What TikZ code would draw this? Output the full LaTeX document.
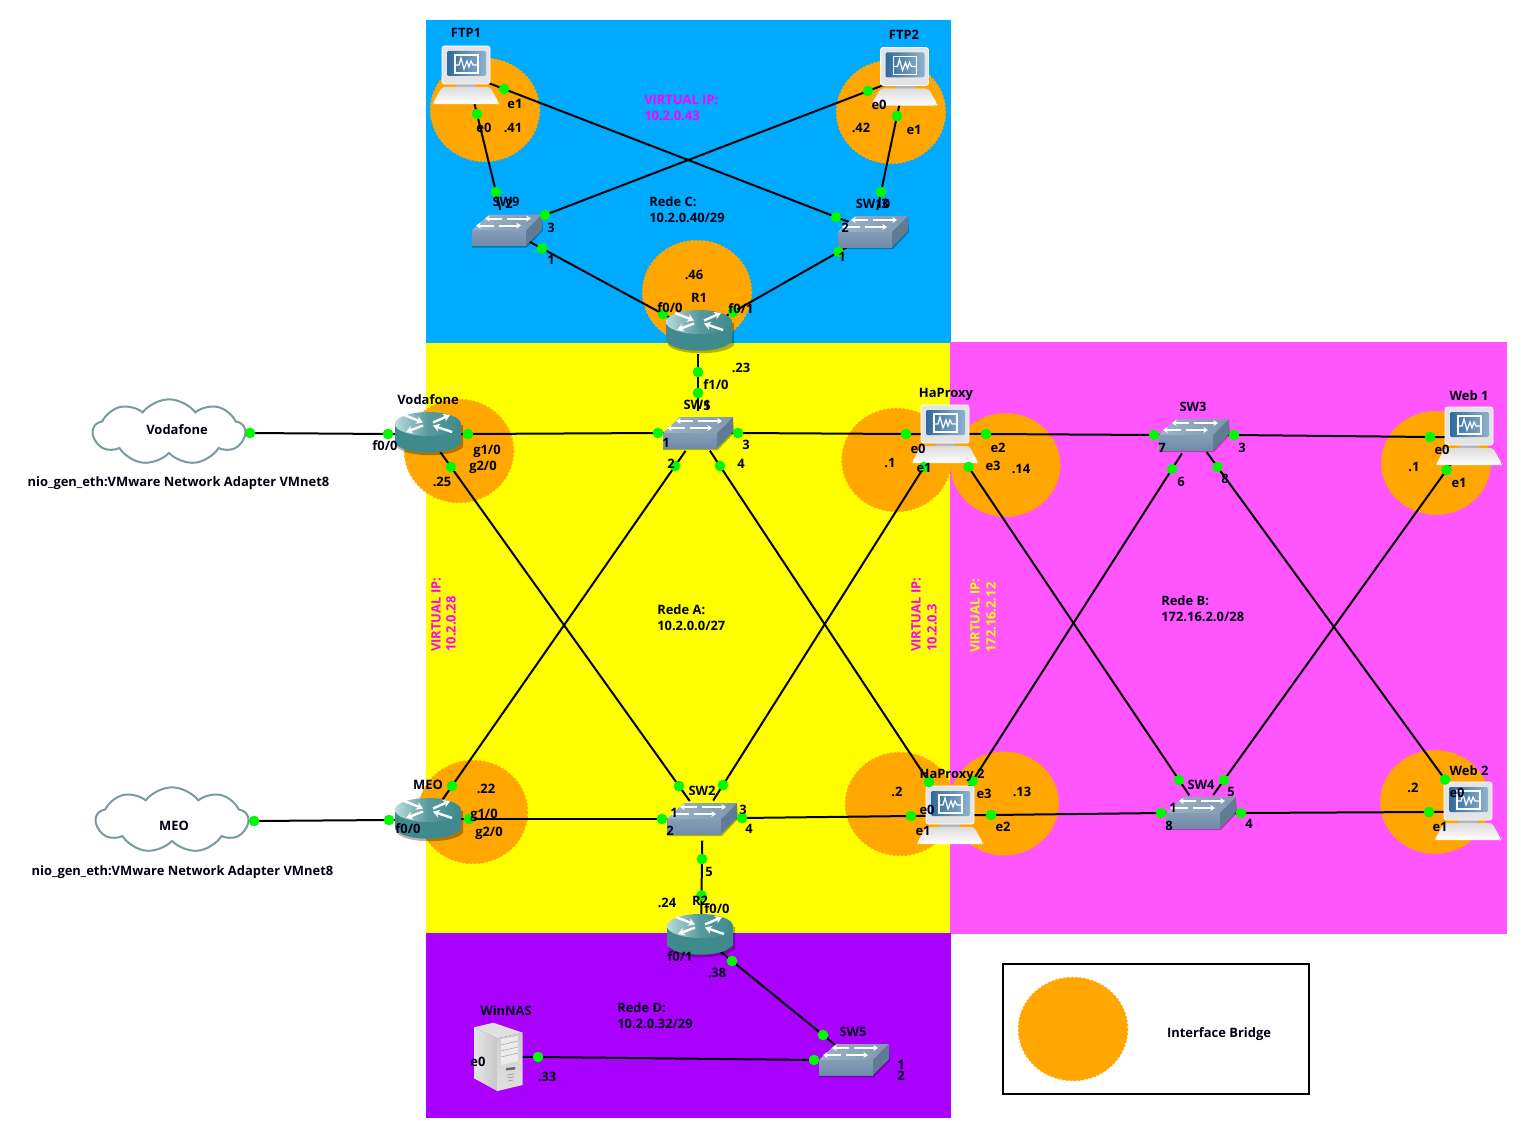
\documentclass[tikz,border=0pt]{standalone}
\usepackage{fontspec}
\setmainfont{Open Sans}
\usetikzlibrary{arrows.meta,shapes.symbols}
\pgfdeclarelayer{devs}\pgfdeclarelayer{ports}\pgfdeclarelayer{texts}
\pgfsetlayers{main,devs,ports,texts}
\definecolor{netblue}{HTML}{00AAFF}
\definecolor{netyellow}{HTML}{FFFF00}
\definecolor{netmag}{HTML}{FF55FF}
\definecolor{netpur}{HTML}{AA00FF}
\definecolor{brorange}{HTML}{FFA600}
\definecolor{portgreen}{HTML}{00F800}
\definecolor{vipmag}{HTML}{FF00FF}
\definecolor{rtbody}{HTML}{3F8A8D}
\definecolor{rtlight}{HTML}{B9DCDD}
\definecolor{swtop}{HTML}{9DB3C6}
\definecolor{swtopr}{HTML}{7F98AE}
\definecolor{swfront}{HTML}{708BAA}
\definecolor{swside}{HTML}{5F7C94}
\definecolor{lapgrey}{HTML}{E4E4E4}
\definecolor{scrdark}{HTML}{2F6A9E}
\definecolor{scrlight}{HTML}{8FB2CF}
\definecolor{cloudline}{HTML}{7B9A9F}
\tikzset{
  lbl/.style={font=\fontsize{9.7pt}{11pt}\selectfont\bfseries,inner sep=0pt,text height=7pt,text depth=0pt,text=black!92!blue},
  lblw/.style={lbl,anchor=west},
  vip/.style={lbl,anchor=west,text=vipmag},
  viprot/.style={vip,rotate=90},
  port/.style={circle,fill=portgreen,minimum size=8pt,inner sep=0pt},
  link/.style={black,line width=1.5pt,shorten <=-18pt,shorten >=-18pt},
  bridge/.style={fill=brorange,draw=brorange,line width=1pt,dash pattern=on 1.6pt off 1.4pt},
  wan/.style={cloud,cloud puffs=9,cloud puff arc=105,cloud ignores aspect,minimum width=114pt,minimum height=49pt,inner sep=0pt,fill=white,draw=cloudline,line width=1.5pt},
  rtarrow/.style={white,line width=1.8pt,-{Stealth[length=5pt,width=6pt]}},
  swarrow/.style={white,line width=1.5pt,-{Stealth[length=3.5pt,width=4.5pt]}},
  routericon/.pic={
    \fill[black,opacity=.3] (-31,-8) -- (-31,14) .. controls (-22,25) and (26,25) .. (35,14) -- (35,-8) -- cycle;
    \fill[rtbody] (-33,-9) -- (-33,10) .. controls (-24,23) and (24,23) .. (33,10) -- (33,-9) -- cycle;
    \shade[left color=rtlight,right color=rtbody,middle color=rtbody!80!rtlight] (0,-9) ellipse[x radius=33,y radius=12];
    \draw[rtarrow] (-24,-18) -- (-5,-10.5);
    \draw[rtarrow] (24,-1) -- (5,-7.5);
    \draw[rtarrow] (5,-10.5) -- (22,-18);
    \draw[rtarrow] (-5,-7.5) -- (-22,-1);
  },
  switchicon/.pic={
    \fill[black,opacity=.3] (-35,3) -- (19,3) -- (35,-13) -- (36,1) -- (20,18) -- (-35,18) -- cycle;
    \shade[left color=swtop,right color=swtopr] (-35,1) -- (19,1) -- (35,-15) -- (-18,-15) -- cycle;
    \shade[top color=swfront!85!white,bottom color=swfront] (-35,1) -- (19,1) -- (19,16) -- (-35,16) -- cycle;
    \fill[swside] (19,1) -- (35,-15) -- (35,0) -- (19,16) -- cycle;
    \draw[swarrow] (-5,-11) -- (-22,-11);
    \draw[swarrow] (0,-11) -- (24,-11);
    \draw[swarrow] (-13,-4) -- (-31,-4);
    \draw[swarrow] (-8,-4) -- (14,-4);
  },
  laptopicon/.pic={
    \fill[lapgrey!80!black] (-10,8) rectangle (10,13);
    \shade[top color=black!14,bottom color=white,rounded corners=2pt] (-24,12) -- (24,12) -- (33,28) -- (32,29) -- (-32,29) -- (-33,28) -- cycle;
    \fill[lapgrey,rounded corners=2pt] (-24,-29) rectangle (24,9);
    \draw[white,line width=.6pt,rounded corners=2pt] (-24,-29) rectangle (24,9);
    \shade[left color=scrdark,right color=scrlight,rounded corners=1pt] (-19,-24) rectangle (20,1);
    \draw[white,line width=.9pt] (-11,-20) rectangle (12,-2);
    \draw[white,line width=.9pt] (-11,-10) -- (-7,-10) -- (-5,-17) -- (-2,-6) -- (1,-14) -- (3,-8) -- (5,-14) -- (7,-10) -- (12,-10);
  },
  servericon/.pic={
    \fill[black!12] (-24,-29.7) -- (-4.7,-34.3) -- (24.7,-24.3) -- (-.7,-18.7) -- cycle;
    \shade[left color=black!10,right color=black!22] (-24,-29.7) -- (-.7,-18.7) -- (-.7,34) -- (-24,21.3) -- cycle;
    \shade[top color=black!20,bottom color=black!12] (-.7,-18.7) -- (24.7,-24.3) -- (24.7,28) -- (-.7,34) -- cycle;
    \fill[black!8] (3,-18) -- (20,-21) -- (20,4) -- (3,8) -- cycle;
    \draw[black!35,line width=.4pt] (3,-12) -- (20,-16) (3,-6) -- (20,-10) (3,0) -- (20,-4);
    \fill[black!60] (8,11) -- (17,10) -- (17,12.5) -- (8,13.5) -- cycle;
    \draw[black!40,line width=.5pt] (9,18) -- (16,17) (9,21) -- (16,20) (10,24) -- (15,23);
  }
}
\begin{document}
\begin{tikzpicture}[x=.75pt,y=-.75pt]
\useasboundingbox (0,0) rectangle (1527,1138);
\fill[white] (0,0) rectangle (1527,1138);
% areas
\fill[netblue] (426,20) rectangle (951,343);
\fill[netyellow] (426,343) rectangle (950,933);
\fill[netmag] (950,342) rectangle (1507,934);
\fill[netpur] (426,933) rectangle (951,1118);
% interface bridges
\path[bridge] (485,110) ellipse[x radius=54.5,y radius=51.5];
\path[bridge] (891,112) ellipse[x radius=54.5,y radius=51.5];
\path[bridge] (697,292) ellipse[x radius=54.5,y radius=51.5];
\path[bridge] (459,451) ellipse[x radius=54.5,y radius=51.5];
\path[bridge] (473,812) ellipse[x radius=54.5,y radius=51.5];
\path[bridge] (896.5,460) ellipse[x radius=54.5,y radius=51.5];
\path[bridge] (1005.5,465) ellipse[x radius=54.5,y radius=51.5];
\path[bridge] (900,804) ellipse[x radius=54.5,y radius=51.5];
\path[bridge] (1004,803.5) ellipse[x radius=54.5,y radius=51.5];
\path[bridge] (1436,463) ellipse[x radius=54.5,y radius=51.5];
\path[bridge] (1435,802) ellipse[x radius=54.5,y radius=51.5];
% legend
\node[draw=black,line width=1.5pt,fill=white,minimum width=229.5pt,minimum height=97.5pt,inner sep=0pt] (legendbox) at (1156,1029) {};
\path[bridge] (1073,1029) ellipse[x radius=54.5,y radius=51.5];
% ports
\begin{pgfonlayer}{ports}
\node[port] (ftpae1) at (504,89) {};
\node[port] (ftpae0) at (477,114) {};
\node[port] (swnb) at (496,192) {};
\node[port] (swnc) at (545,215) {};
\node[port] (swna) at (542,248.5) {};
\node[port] (ftpbe0) at (868,91) {};
\node[port] (ftpbe1) at (897,116) {};
\node[port] (swtc) at (881,192) {};
\node[port] (swtb) at (836,217) {};
\node[port] (swta) at (838.5,252) {};
\node[port] (raa) at (663,314) {};
\node[port] (rab) at (733,312) {};
\node[port] (rac) at (698,372) {};
\node[port] (swae) at (698,393) {};
\node[port] (swaa) at (658,433) {};
\node[port] (swac) at (738,433) {};
\node[port] (swab) at (675,466) {};
\node[port] (swad) at (720,466) {};
\node[port] (vfa) at (388,434) {};
\node[port] (vfb) at (468,434) {};
\node[port] (vfc) at (451,467) {};
\node[port] (cva) at (250,433) {};
\node[port] (cma) at (254,821) {};
\node[port] (mea) at (389,820) {};
\node[port] (meb) at (469,819) {};
\node[port] (mec) at (452,786) {};
\node[port] (swbb) at (662,819) {};
\node[port] (swba) at (679,786) {};
\node[port] (swbc) at (723,785) {};
\node[port] (swbd) at (742,818) {};
\node[port] (swbe) at (702,859) {};
\node[port] (rba) at (701.5,895.5) {};
\node[port] (rbb) at (732,961) {};
\node[port] (haze) at (906,434) {};
\node[port] (hatw) at (986,434) {};
\node[port] (hath) at (968.5,467) {};
\node[port] (haon) at (924,467) {};
\node[port] (hbze) at (911,816) {};
\node[port] (hbtw) at (991,815) {};
\node[port] (hbon) at (929,782) {};
\node[port] (hbth) at (972.5,781) {};
\node[port] (swda) at (1179,780) {};
\node[port] (swdb) at (1224,780) {};
\node[port] (swdc) at (1161,813) {};
\node[port] (swdd) at (1241,813) {};
\node[port] (swcg) at (1154,435) {};
\node[port] (swcc) at (1234,435) {};
\node[port] (swcf) at (1172,469) {};
\node[port] (swch) at (1217.5,467) {};
\node[port] (waze) at (1430,437) {};
\node[port] (waon) at (1446.5,470) {};
\node[port] (wbze) at (1445,779.5) {};
\node[port] (wbon) at (1429,812) {};
\node[port] (nasze) at (538,1057) {};
\node[port] (swea) at (823,1035) {};
\node[port] (sweb) at (814,1060) {};
\end{pgfonlayer}
% links
\draw[link] (ftpae0) -- (swnb);
\draw[link] (ftpae1) -- (swtb);
\draw[link] (ftpbe0) -- (swnc);
\draw[link] (ftpbe1) -- (swtc);
\draw[link] (swna) -- (raa);
\draw[link] (swta) -- (rab);
\draw[link] (rac) -- (swae);
\draw[link] (cva) -- (vfa);
\draw[link] (cma) -- (mea);
\draw[link] (vfb) -- (swaa);
\draw[link] (vfc) -- (swba);
\draw[link] (mec) -- (swab);
\draw[link] (meb) -- (swbb);
\draw[link] (swac) -- (haze);
\draw[link] (swad) -- (hbon);
\draw[link] (haon) -- (swbc);
\draw[link] (swbd) -- (hbze);
\draw[link] (swbe) -- (rba);
\draw[link] (rbb) -- (swea);
\draw[link] (nasze) -- (sweb);
\draw[link] (hatw) -- (swcg);
\draw[link] (hath) -- (swda);
\draw[link] (hbth) -- (swcf);
\draw[link] (hbtw) -- (swdc);
\draw[link] (swcc) -- (waze);
\draw[link] (swch) -- (wbze);
\draw[link] (waon) -- (swdb);
\draw[link] (swdd) -- (wbon);
% devices
\begin{pgfonlayer}{devs}
\node[wan] (cloudv) at (169,432) {};
\node[wan] (cloudm) at (172,820) {};
\pic (rone) at (699,331) {routericon};
\pic (rtwo) at (700,935) {routericon};
\pic (rvoda) at (428,433) {routericon};
\pic (rmeo) at (428,819) {routericon};
\pic (sone) at (698,432) {switchicon};
\pic (stwo) at (702,818) {switchicon};
\pic (sthree) at (1194,434) {switchicon};
\pic (sfour) at (1201,812) {switchicon};
\pic (sfive) at (854,1059) {switchicon};
\pic (snine) at (507,229.5) {switchicon};
\pic (sten) at (873,231) {switchicon};
\pic (lftpa) at (466,75) {laptopicon};
\pic (lftpb) at (904.5,76.5) {laptopicon};
\pic (lhaa) at (945,434) {laptopicon};
\pic (lhab) at (950,815) {laptopicon};
\pic (lwa) at (1469,436) {laptopicon};
\pic (lwb) at (1468,811) {laptopicon};
\pic (snas) at (498,1057) {servericon};
\end{pgfonlayer}
% labels
\begin{pgfonlayer}{texts}
\node[lbl] (ta) at (466,33) {FTP1};
\node[lbl] (tb) at (904,35) {FTP2};
\node[lbl] (tc) at (515,104) {e1};
\node[lbl] (td) at (484,128) {e0};
\node[lbl] (te) at (513,128) {.41};
\node[vip] (tf) at (644,100) {VIRTUAL IP:};
\node[vip] (tg) at (644,116) {10.2.0.43};
\node[lbl] (th) at (879,105) {e0};
\node[lbl] (ti) at (861,128) {.42};
\node[lbl] (tj) at (914,130) {e1};
\node[lbl] (tk) at (506,202) {SW9};
\node[lbl] (tl) at (509,204) {2};
\node[lbl] (tm) at (551,228) {3};
\node[lbl] (tn) at (551,260) {1};
\node[lblw] (to) at (649,202) {Rede C:};
\node[lblw] (tp) at (649,218) {10.2.0.40/29};
\node[lbl] (tq) at (873,204) {SW10};
\node[lbl] (tr) at (885,204) {3};
\node[lbl] (ts) at (845,228) {2};
\node[lbl] (tt) at (842,257) {1};
\node[lbl] (tu) at (694,275) {.46};
\node[lbl] (tv) at (699,298) {R1};
\node[lbl] (tw) at (670,308) {f0/0};
\node[lbl] (tx) at (741,309) {f0/1};
\node[lbl] (ty) at (741,368) {.23};
\node[lbl] (tz) at (716,385) {f1/0};
\node[lbl] (uaa) at (697,405) {SW1};
\node[lbl] (uab) at (707,406) {5};
\node[lbl] (uac) at (666,443) {1};
\node[lbl] (uad) at (746,445) {3};
\node[lbl] (uae) at (671,464) {2};
\node[lbl] (uaf) at (741,464) {4};
\node[lbl] (uag) at (428,400) {Vodafone};
\node[lbl] (uah) at (385,446) {f0/0};
\node[lbl] (uai) at (487,450) {g1/0};
\node[lbl] (uaj) at (483,466) {g2/0};
\node[lbl] (uak) at (442,482) {.25};
\node[lbl] (ual) at (177,430) {Vodafone};
\node[lbl] (uam) at (178.5,482) {nio\_gen\_eth:VMware Network Adapter VMnet8};
\node[lbl] (uan) at (174,826) {MEO};
\node[lbl] (uao) at (182.5,871) {nio\_gen\_eth:VMware Network Adapter VMnet8};
\node[viprot] (uap) at (436,652) {VIRTUAL IP:};
\node[viprot] (uaq) at (451,652) {10.2.0.28};
\node[viprot] (uar) at (916,652) {VIRTUAL IP:};
\node[viprot] (uas) at (932,652) {10.2.0.3};
\node[viprot,text=netyellow] (uat) at (975,653) {VIRTUAL IP:};
\node[viprot,text=netyellow] (uau) at (991,653) {172.16.2.12};
\node[lblw] (uav) at (657,610) {Rede A:};
\node[lblw] (uaw) at (657,626) {10.2.0.0/27};
\node[lblw] (uax) at (1161,601) {Rede B:};
\node[lblw] (uay) at (1161,617) {172.16.2.0/28};
\node[lblw] (uaz) at (617,1008) {Rede D:};
\node[lblw] (uba) at (617,1024) {10.2.0.32/29};
\node[lbl] (ubb) at (946,393) {HaProxy};
\node[lbl] (ubc) at (918,449) {e0};
\node[lbl] (ubd) at (890,463) {.1};
\node[lbl] (ube) at (924,468) {e1};
\node[lbl] (ubf) at (998,448) {e2};
\node[lbl] (ubg) at (993,466) {e3};
\node[lbl] (ubh) at (1021,469) {.14};
\node[lbl] (ubi) at (1193,407) {SW3};
\node[lbl] (ubj) at (1162,448) {7};
\node[lbl] (ubk) at (1242,448) {3};
\node[lbl] (ubl) at (1181,482) {6};
\node[lbl] (ubm) at (1225,479) {8};
\node[lbl] (ubn) at (1469,396) {Web 1};
\node[lbl] (ubo) at (1442,450) {e0};
\node[lbl] (ubp) at (1414,467) {.1};
\node[lbl] (ubq) at (1459,483) {e1};
\node[lbl] (ubr) at (428,785) {MEO};
\node[lbl] (ubs) at (486,789) {.22};
\node[lbl] (ubt) at (484,814) {g1/0};
\node[lbl] (ubu) at (489,832) {g2/0};
\node[lbl] (ubv) at (408,829) {f0/0};
\node[lbl] (ubw) at (702,791) {SW2};
\node[lbl] (ubx) at (674,813) {1};
\node[lbl] (uby) at (743,810) {3};
\node[lbl] (ubz) at (670,831) {2};
\node[lbl] (uca) at (749,829) {4};
\node[lbl] (ucb) at (709,872) {5};
\node[lbl] (ucc) at (667,903) {.24};
\node[lbl] (ucd) at (700,901) {R2};
\node[lbl] (uce) at (717,909) {f0/0};
\node[lbl] (ucf) at (680,957) {f0/1};
\node[lbl] (ucg) at (717,973) {.38};
\node[lbl] (uch) at (952,774) {HaProxy 2};
\node[lbl] (uci) at (897,792) {.2};
\node[lbl] (ucj) at (927,810) {e0};
\node[lbl] (uck) at (923,831) {e1};
\node[lbl] (ucl) at (984,794) {e3};
\node[lbl] (ucm) at (1022,792) {.13};
\node[lbl] (ucn) at (1003,827) {e2};
\node[lbl] (uco) at (1201,785) {SW4};
\node[lbl] (ucp) at (1231,792) {5};
\node[lbl] (ucq) at (1173,808) {1};
\node[lbl] (ucr) at (1169,826) {8};
\node[lbl] (ucs) at (1249,824) {4};
\node[lbl] (uct) at (1469,771) {Web 2};
\node[lbl] (ucu) at (1413,788) {.2};
\node[lbl] (ucv) at (1457,793) {e0};
\node[lbl] (ucw) at (1440,827) {e1};
\node[lbl] (ucx) at (506,1011) {WinNAS};
\node[lbl] (ucy) at (478,1062) {e0};
\node[lbl] (ucz) at (547,1077) {.33};
\node[lbl] (uda) at (853,1032) {SW5};
\node[lbl] (udb) at (901,1065) {1};
\node[lbl] (udc) at (901,1076) {2};
\node[lbl] (udd) at (1219,1033) {Interface Bridge};
\end{pgfonlayer}
\end{tikzpicture}
\end{document}
